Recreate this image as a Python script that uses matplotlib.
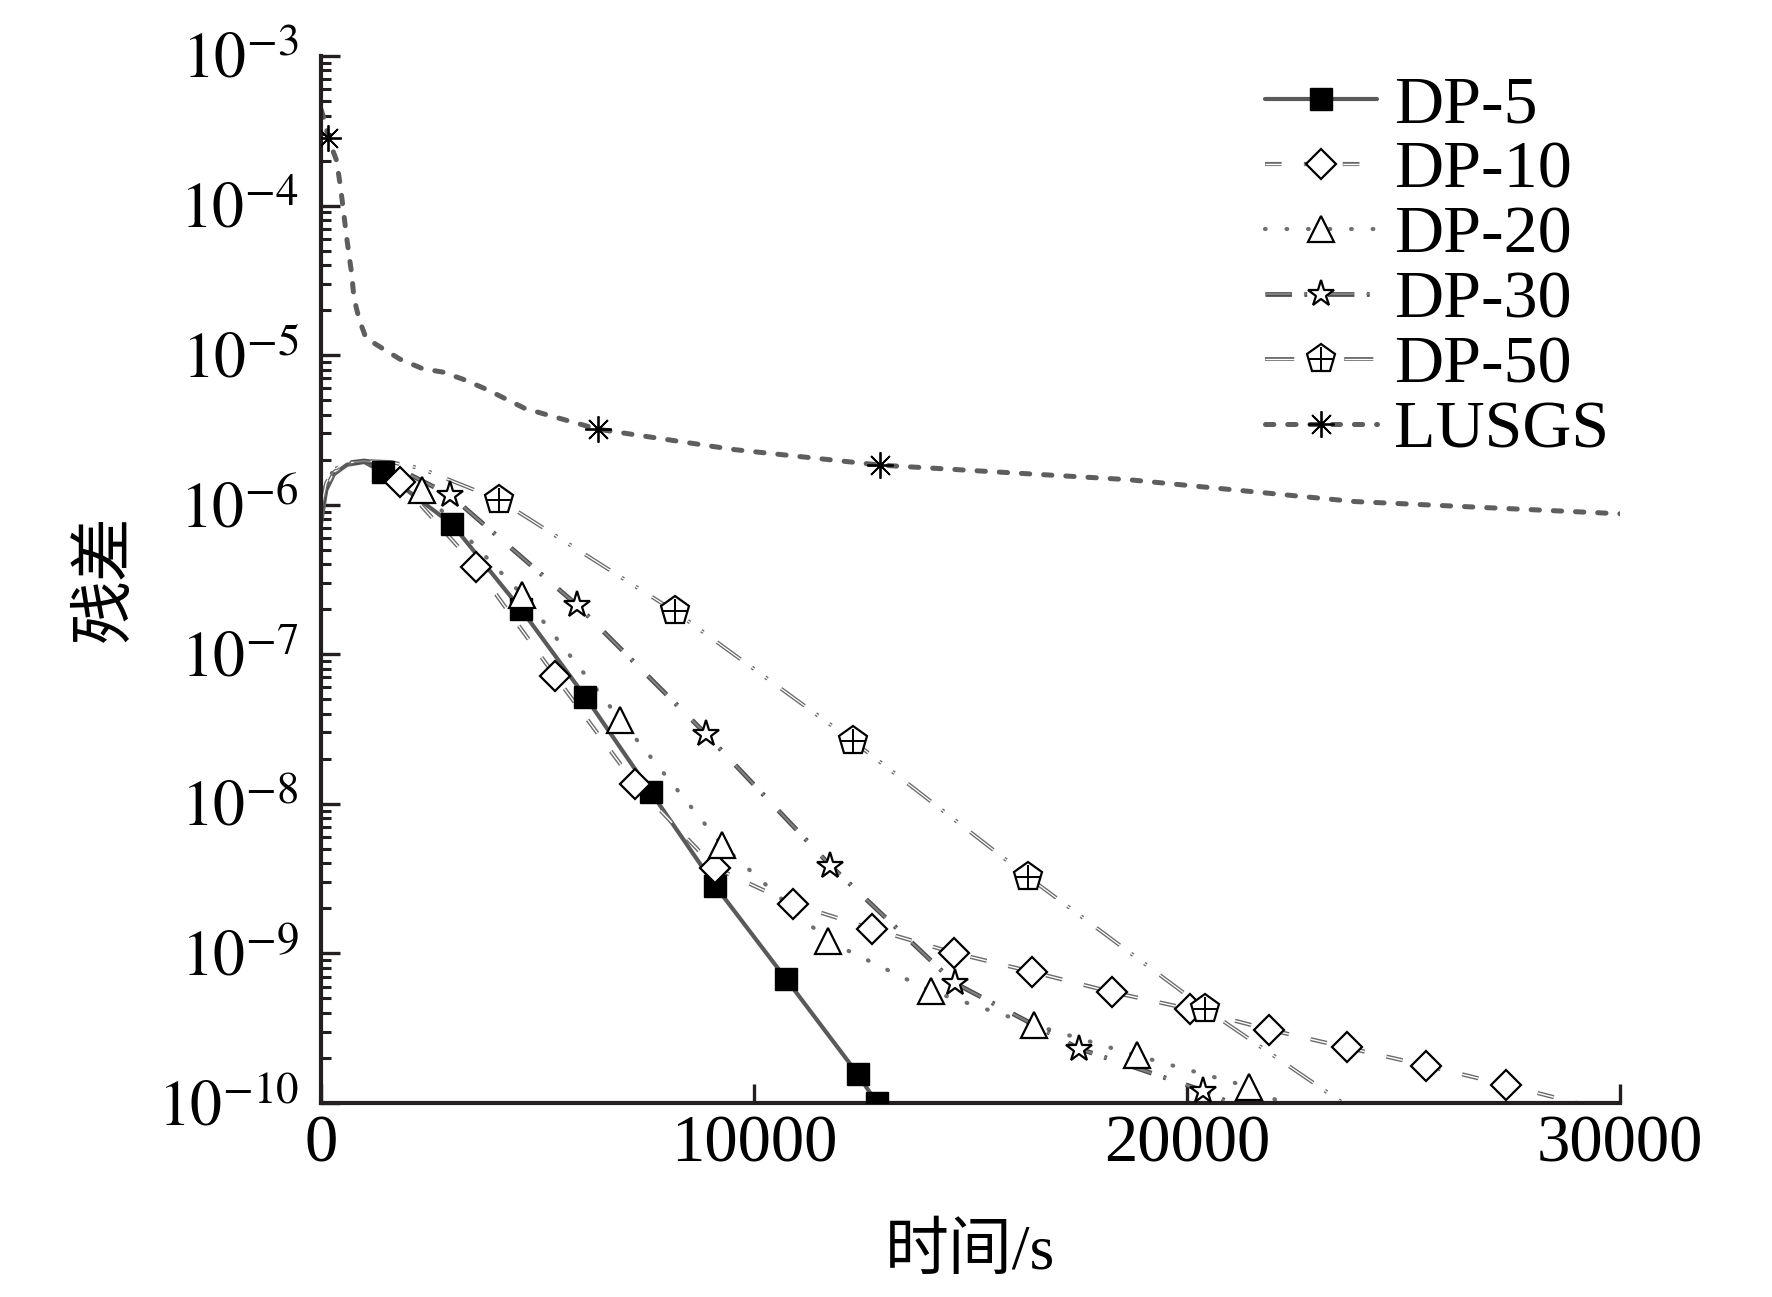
import matplotlib
matplotlib.use('Agg')
import matplotlib.pyplot as plt
import matplotlib.patheffects as pe
from matplotlib.ticker import LogLocator, NullFormatter
import numpy as np

plt.rcParams['font.family'] = ['Liberation Serif', 'Noto Sans CJK SC']
plt.rcParams['mathtext.fontset'] = 'stix'
plt.rcParams['lines.scale_dashes'] = False

# ---- datos (tiempo en s, residuo) ----
t_dp5 = [0, 120, 300, 600, 1000, 1430, 3030, 4620, 6104, 7617, 9104, 10748, 12391, 12835]
r_dp5 = [7.5e-7, 1.25e-6, 1.6e-6, 1.85e-6, 1.93e-6, 1.65e-6, 7.4e-7, 2.0e-7, 5.2e-8,
         1.2e-8, 2.83e-9, 6.7e-10, 1.57e-10, 1.0e-10]
mk_dp5 = list(range(5, 14))

t_dp10 = [0, 120, 300, 600, 1000, 1400, 1824, 3579, 5400, 7252, 9104, 10904, 12730, 14609,
          16409, 18261, 20061, 21887, 23687, 25513, 27365, 29000]
r_dp10 = [8e-7, 1.3e-6, 1.65e-6, 1.88e-6, 1.95e-6, 1.8e-6, 1.42e-6, 3.86e-7, 7.2e-8, 1.36e-8,
          3.74e-9, 2.14e-9, 1.46e-9, 1.01e-9, 7.55e-10, 5.52e-10, 4.25e-10, 3.1e-10,
          2.35e-10, 1.78e-10, 1.32e-10, 1.0e-10]
mk_dp10 = list(range(6, 21))

t_dp20 = [0, 120, 300, 600, 1000, 1500, 2325, 4648, 6913, 9261, 11713, 14087, 16461, 18835,
          21443, 22200]
r_dp20 = [8.5e-7, 1.3e-6, 1.65e-6, 1.88e-6, 1.95e-6, 1.82e-6, 1.26e-6, 2.5e-7, 3.66e-8,
          5.3e-9, 1.21e-9, 5.6e-10, 3.33e-10, 2.08e-10, 1.28e-10, 1.0e-10]
mk_dp20 = list(range(6, 15))

t_dp30 = [0, 120, 300, 600, 1000, 1600, 2979, 5922, 8896, 11765, 14635, 17504, 20374, 21000]
r_dp30 = [9e-7, 1.35e-6, 1.7e-6, 1.9e-6, 1.96e-6, 1.85e-6, 1.16e-6, 2.12e-7, 2.92e-8,
          3.87e-9, 6.34e-10, 2.31e-10, 1.21e-10, 1.0e-10]
mk_dp30 = list(range(6, 13))

t_dp50 = [0, 120, 300, 600, 1000, 1600, 2300, 4110, 8165, 12287, 16330, 20426, 23600]
r_dp50 = [9.5e-7, 1.4e-6, 1.72e-6, 1.9e-6, 1.96e-6, 1.93e-6, 1.75e-6, 1.08e-6, 1.94e-7,
          2.63e-8, 3.25e-9, 4.25e-10, 1.0e-10]
mk_dp50 = list(range(7, 12))

t_lusgs = [0, 100, 165, 360, 454, 593, 708, 762, 885, 1039, 1439, 1824, 2355, 2817, 3279,
           3826, 4710, 5211, 6391, 9522, 12913, 18652, 23870, 30000]
r_lusgs = [4.4e-4, 3.6e-4, 2.83e-4, 2.0e-4, 1.31e-4, 6.1e-5, 3.5e-5, 2.4e-5, 1.72e-5, 1.3e-5,
           1.1e-5, 9.4e-6, 8.1e-6, 7.7e-6, 6.9e-6, 5.9e-6, 4.4e-6, 4.0e-6, 3.2e-6, 2.34e-6,
           1.84e-6, 1.47e-6, 1.05e-6, 8.7e-7]
mk_lusgs = [2, 18, 20]

etiquetas = ['DP-5', 'DP-10', 'DP-20', 'DP-30', 'DP-50', 'LUSGS']
x_ticks = [0, 10000, 20000, 30000]
y_exp = list(range(-10, -2))

fig = plt.figure(figsize=(17.72, 12.97), dpi=100)
ax = fig.add_axes([321 / 1772, 1 - 1103 / 1297, 1299 / 1772, 1047 / 1297])


def hueco(ancho, color='#707070'):
    # linea "hueca": trazo gris ancho y centro blanco encima
    return [pe.Stroke(linewidth=ancho, foreground=color), pe.Normal()]


def serie(t, r, idx, line_kw, mk_kw, efectos=None):
    ln, = ax.plot(t, r, zorder=2, path_effects=efectos or [], **line_kw)
    tm = np.array(t)[idx]
    rm = np.array(r)[idx]
    mk, = ax.plot(tm, rm, linestyle='none', zorder=3, **mk_kw)
    return ln, mk


h = []
# DP-5
ln, mk = serie(t_dp5, r_dp5, mk_dp5,
               dict(color='#5a5a5a', lw=3.0, solid_capstyle='round'),
               dict(marker='s', ms=16, mfc='black', mec='black', mew=1))
h.append((ln, mk))
# DP-10
ln, mk = serie(t_dp10, r_dp10, mk_dp10,
               dict(color='white', lw=1.0, linestyle=(0, (12, 16))),
               dict(marker='D', ms=15, mfc='white', mec='black', mew=1.6),
               hueco(3.0, '#6a6a6a'))
h.append((ln, mk))
# DP-20
ln, mk = serie(t_dp20, r_dp20, mk_dp20,
               dict(color='#707070', lw=3.0, linestyle=(0, (0.5, 15)),
                    dash_capstyle='round'),
               dict(marker='^', ms=19, mfc='white', mec='black', mew=1.6))
h.append((ln, mk))
# DP-30
ln, mk = serie(t_dp30, r_dp30, mk_dp30,
               dict(color='#808080', lw=1.6, linestyle=(0, (19, 9, 2, 15))),
               dict(marker='*', ms=20, mfc='white', mec='black', mew=1.6),
               hueco(3.4, '#4a4a4a'))
h.append((ln, mk))
# DP-50
ln, mk = serie(t_dp50, r_dp50, mk_dp50,
               dict(color='white', lw=0.9, linestyle=(0, (21, 10, 2, 10, 2, 12))),
               dict(marker='p', ms=21, mfc='white', mec='black', mew=1.6),
               hueco(2.8, '#6a6a6a'))
tm = np.array(t_dp50)[mk_dp50]
rm = np.array(r_dp50)[mk_dp50]
cruz, = ax.plot(tm, rm, linestyle='none', marker='+', ms=17, mec='black', mew=1.4, zorder=4)
h.append((ln, mk, cruz))
# LUSGS
ln, mk = serie(t_lusgs, r_lusgs, mk_lusgs,
               dict(color='#5e5e5e', lw=3.6, linestyle=(0, (6, 10)),
                    dash_capstyle='round'),
               dict(marker=(8, 2, 0), ms=19, mec='black', mew=1.3))
h.append((ln, mk))

ax.set_yscale('log')
ax.set_xlim(0, 30000)
ax.set_ylim(1e-10, 1e-3)

ax.set_xticks(x_ticks)
ax.set_xticklabels([str(v) for v in x_ticks])
ax.set_yticks([10.0 ** e for e in y_exp])
ax.set_yticklabels([r'$10^{%d}$' % e for e in y_exp])
ax.yaxis.set_minor_locator(LogLocator(base=10, subs=range(2, 10), numticks=20))
ax.yaxis.set_minor_formatter(NullFormatter())

for s in ['top', 'right']:
    ax.spines[s].set_visible(False)
for s in ['left', 'bottom']:
    ax.spines[s].set_linewidth(3)
    ax.spines[s].set_color('#231f20')

ax.tick_params(axis='both', which='major', direction='in', length=14, width=2.4,
               color='#231f20')
ax.tick_params(axis='x', which='major', pad=8, labelsize=48)
ax.tick_params(axis='y', which='major', pad=16, labelsize=46)
ax.tick_params(axis='y', which='minor', direction='in', length=7, width=2.2, color='#231f20')

fig.text(107 / 1772, 1 - 578 / 1297, '残差', rotation=90, fontsize=46,
         ha='center', va='center')
fig.text(970 / 1772, 1 - 1254 / 1297, '时间/s', fontsize=46, ha='center', va='center')

leg = ax.legend(h, etiquetas, loc='upper left', bbox_to_anchor=(0.7267, 0.982),
                frameon=False, fontsize=49, handlelength=1.65, handletextpad=0.25,
                labelspacing=0.05, borderpad=0, borderaxespad=0, numpoints=1)

fig.savefig('out.png', dpi=100)
